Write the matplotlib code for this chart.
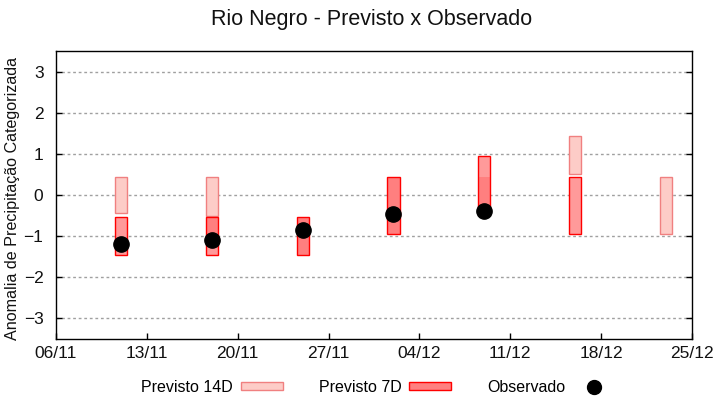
import numpy as np
import matplotlib
matplotlib.use('Agg')
import matplotlib.pyplot as plt
import matplotlib.dates as mdates
from matplotlib.patches import Patch
from matplotlib.lines import Line2D

plt.rcParams['font.family'] = ['Liberation Sans', 'DejaVu Sans']

# datas das previsoes (semanas)
datas = ['2023-11-11', '2023-11-18', '2023-11-25', '2023-12-02',
         '2023-12-09', '2023-12-16', '2023-12-23']
# previsto 14 dias (faixa)
p14_ini = [-0.44, -0.50, np.nan, np.nan, np.nan, 0.50, -0.96]
p14_fim = [0.43, 0.43, np.nan, np.nan, np.nan, 1.43, 0.43]
# previsto 7 dias (faixa)
p7_ini = [-1.45, -1.45, -1.45, -0.96, -0.35, -0.96, np.nan]
p7_fim = [-0.53, -0.53, -0.53, 0.43, 0.94, 0.43, np.nan]
# parte mais escura da barra de 7 dias
p7f_ini = [np.nan, -1.22, -1.45, -0.96, -0.35, np.nan, np.nan]
p7f_fim = [np.nan, -0.53, -0.53, 0.43, 0.43, np.nan, np.nan]
# observado
obs = [-1.20, -1.10, -0.85, -0.47, -0.40, np.nan, np.nan]

xticks = ['2023-11-06', '2023-11-13', '2023-11-20', '2023-11-27',
          '2023-12-04', '2023-12-11', '2023-12-18', '2023-12-25']

c14 = '#fdccc7'
c14b = '#f08080'
c7 = '#ff9a9a'
c7f = '#ff7f7f'

x = mdates.datestr2num(datas)
xt = mdates.datestr2num(xticks)
larg = 0.93

fig = plt.figure(figsize=(7.2, 4.0), dpi=100)
ax = fig.add_axes([56/720, 1-339/400, 636/720, 288/400])

p14_ini = np.array(p14_ini); p14_fim = np.array(p14_fim)
p7_ini = np.array(p7_ini); p7_fim = np.array(p7_fim)
p7f_ini = np.array(p7f_ini); p7f_fim = np.array(p7f_fim)

ax.bar(x, p14_fim - p14_ini, bottom=p14_ini, width=larg, color=c14,
       edgecolor=c14b, linewidth=1.0, zorder=3)
ax.bar(x, p7_fim - p7_ini, bottom=p7_ini, width=larg, color=c7,
       linewidth=0, zorder=3)
ax.bar(x, p7f_fim - p7f_ini, bottom=p7f_ini, width=larg, color=c7f,
       linewidth=0, zorder=3)
ax.bar(x, p7_fim - p7_ini, bottom=p7_ini, width=larg, fill=False,
       edgecolor='red', linewidth=1.0, zorder=4)
ax.plot(x, obs, 'o', color='black', markersize=11, zorder=5)

ax.set_xlim(xt[0], xt[-1])
ax.set_ylim(-3.5, 3.5)
ax.set_xticks(xt)
ax.set_xticklabels([mdates.num2date(t).strftime('%d/%m') for t in xt])
ax.set_yticks(np.arange(-3, 4))
ax.grid(axis='y', color='#a0a0a0', linestyle=(0, (2, 2)), linewidth=1)
ax.tick_params(direction='in', length=4, width=1, right=True, top=False,
               labelsize=12.5, colors='black')
ax.tick_params(axis='x', pad=5)
ax.tick_params(axis='y', pad=9)
for lb in ax.get_xticklabels() + ax.get_yticklabels():
    lb.set_family(['Liberation Sans Narrow', 'Liberation Sans'])
    lb.set_color('#111111')
for s in ax.spines.values():
    s.set_linewidth(1)

ax.set_ylabel('Anomalia de Precipitação Categorizada', fontsize=11.6,
              color='#111111')
ax.yaxis.set_label_coords(-36/636, 0.487)
fig.text(372/720, 1-19/400, 'Rio Negro - Previsto x Observado', ha='center',
         va='center', fontsize=15.5, color='#111111')

handles = [Patch(facecolor=c14, edgecolor=c14b),
           Patch(facecolor='#ff8080', edgecolor='red'),
           Line2D([], [], marker='o', color='black', linestyle='none', markersize=10)]
ax.legend(handles, ['Previsto 14D', 'Previsto 7D', 'Observado'],
          loc='center', bbox_to_anchor=(378/720, 1-387/400),
          bbox_transform=fig.transFigure, ncol=3, frameon=False,
          markerfirst=False, fontsize=11.5, handlelength=2.6,
          handleheight=0.45, handletextpad=0.5, columnspacing=2.25)

fig.savefig('out.png', dpi=100)
